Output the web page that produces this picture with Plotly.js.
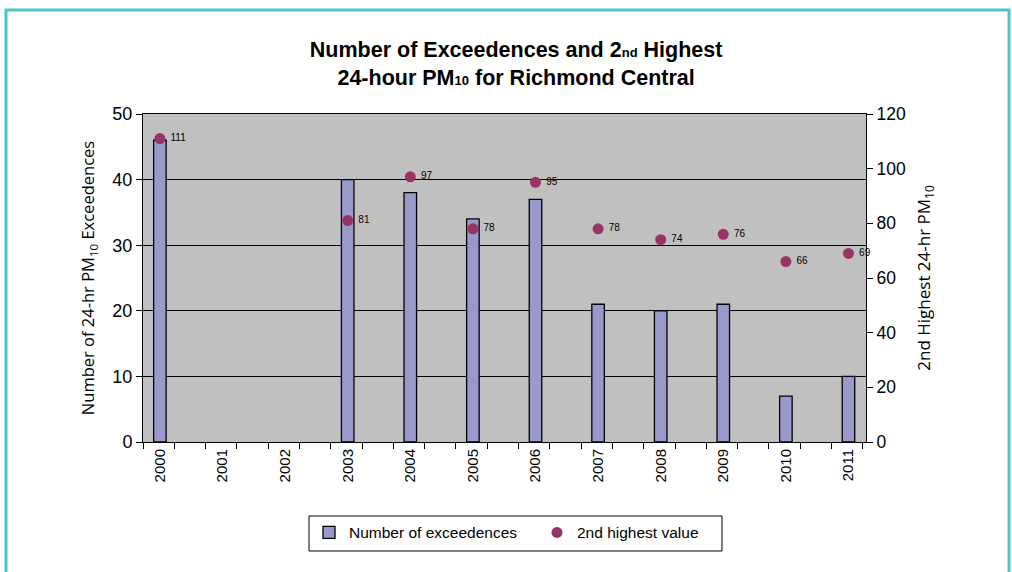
<!DOCTYPE html>
<html>
<head>
<meta charset="utf-8">
<script src="https://cdn.plot.ly/plotly-3.0.1.min.js"></script>
<style>
html,body{margin:0;padding:0;background:#fff;}
#chart{width:1012px;height:572px;}
</style>
</head>
<body>
<div id="chart"></div>
<script>
const years = [2000, 2001, 2002, 2003, 2004, 2005, 2006, 2007, 2008, 2009, 2010, 2011];
const exceedences = [46, null, null, 40, 38, 34, 37, 21, 20, 21, 7, 10];
const secondHighest = [111, null, null, 81, 97, 78, 95, 78, 74, 76, 66, 69];
const yearLabels = years.map(String);

const barTrace = {
  type: 'bar',
  name: 'Number of exceedences',
  x: years,
  y: exceedences,
  width: 0.2,
  marker: {color: '#9999cc', line: {color: '#000', width: 1.3}},
  yaxis: 'y',
  hoverinfo: 'x+y'
};
const dotTrace = {
  type: 'scatter',
  mode: 'markers+text',
  name: '2nd highest value',
  x: years,
  y: secondHighest,
  text: secondHighest.map(v => v === null ? '' : ' ' + v),
  textposition: 'middle right',
  textfont: {family: 'Arial, Liberation Sans, sans-serif', size: 10, color: '#000'},
  marker: {color: '#993366', size: 11},
  yaxis: 'y2',
  cliponaxis: false
};

const font = 'Arial, Liberation Sans, sans-serif';
const titleFont = 'Open Sans, sans-serif';
const layout = {
  width: 1012, height: 572,
  margin: {l: 143, r: 146, t: 114, b: 130},
  paper_bgcolor: '#fff',
  plot_bgcolor: '#c0c0c0',
  font: {family: font, color: '#000'},
  showlegend: true,
  title: {
    text: '<b>Number of Exceedences and 2<span style="font-size:13px">nd</span> Highest<br>24-hour PM<span style="font-size:13px">10</span> for Richmond Central</b>',
    font: {family: font, size: 21.5, color: '#000'},
    x: 0.51, xanchor: 'center', y: 0.9, yanchor: 'top'
  },
  xaxis: {
    range: [1999.73, 2011.28],
    tickvals: years,
    ticktext: yearLabels,
    tickangle: -90,
    ticks: '',
    tickfont: {family: font, size: 15},
    showgrid: false,
    showline: true, linecolor: '#000', linewidth: 1,
    mirror: true,
    zeroline: false,
    minor: {tick0: 1999.73, dtick: 0.5, ticks: 'outside', ticklen: 6, tickcolor: '#000', showgrid: false}
  },
  yaxis: {
    range: [0, 50], dtick: 10,
    ticks: 'outside', ticklen: 6, tickcolor: '#000',
    tickfont: {family: font, size: 18},
    showgrid: true, gridcolor: '#000', gridwidth: 1,
    showline: true, linecolor: '#000', linewidth: 1,
    zeroline: false,
    title: {text: 'Number of 24-hr PM<sub>10</sub> Exceedences', font: {family: titleFont, size: 16.5}, standoff: 13}
  },
  yaxis2: {
    range: [0, 120], dtick: 20,
    overlaying: 'y', side: 'right',
    ticks: 'outside', ticklen: 6, tickcolor: '#000',
    tickfont: {family: font, size: 17.5},
    showgrid: false,
    showline: true, linecolor: '#000', linewidth: 1,
    zeroline: false,
    title: {text: '2nd Highest 24-hr PM<sub>10</sub>', font: {family: titleFont, size: 17}, standoff: 13}
  },
  legend: {
    orientation: 'h',
    x: 0.2296, xanchor: 'left',
    y: -0.225, yanchor: 'top',
    bgcolor: 'rgba(0,0,0,0)',
    borderwidth: 0,
    font: {family: font, size: 15.5},
    entrywidth: 183,
    traceorder: 'normal'
  },
  shapes: [{
    type: 'rect', xref: 'paper', yref: 'paper',
    x0: -0.1895, x1: 1.1978, y0: -0.6, y1: 1.317,
    line: {color: '#4cc6c8', width: 3},
    fillcolor: 'rgba(0,0,0,0)'
  }, {
    type: 'rect', xref: 'paper', yref: 'paper',
    x0: 0.2296, x1: 0.8008, y0: -0.3323, y1: -0.2256,
    line: {color: '#000', width: 1},
    fillcolor: 'rgba(0,0,0,0)'
  }]
};

Plotly.newPlot('chart', [barTrace, dotTrace], layout, {displayModeBar: false, staticPlot: true});
</script>
</body>
</html>
